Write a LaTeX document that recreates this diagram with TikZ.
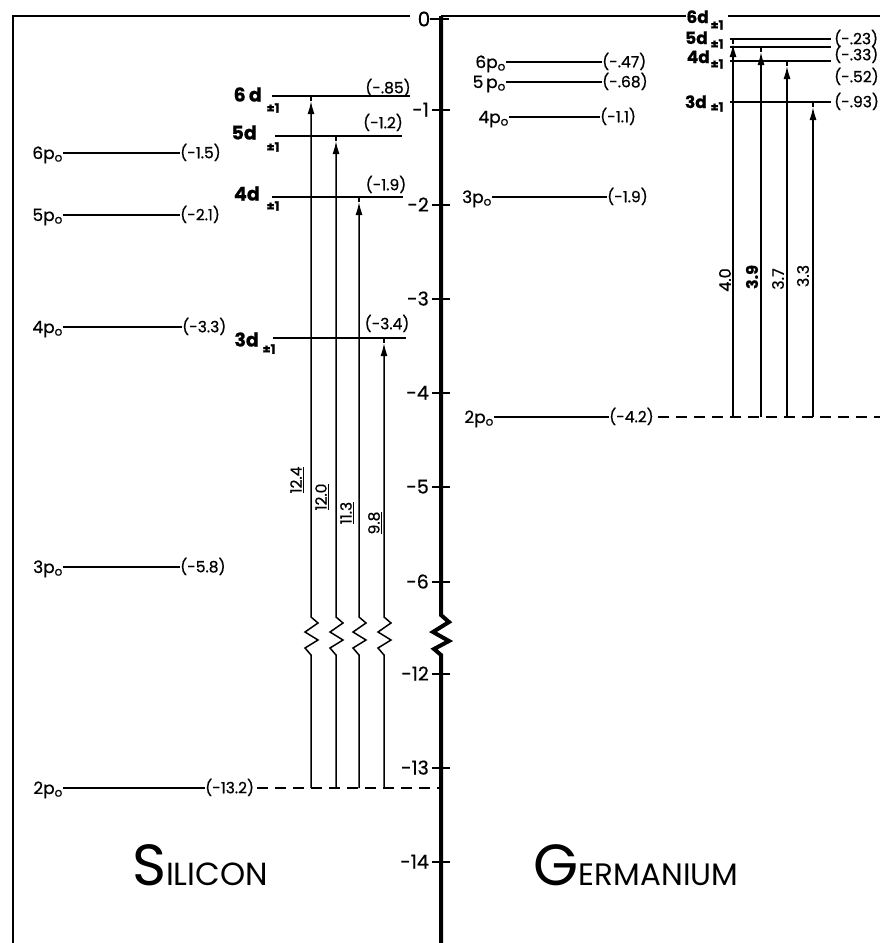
\documentclass[tikz,border=0pt]{standalone}
\usepackage{fontspec}
\setmainfont{Poppins}[FakeBold=0.6]
\newfontfamily\ttlfont{Poppins}
\usetikzlibrary{arrows.meta,calc}
\begin{document}
\begin{tikzpicture}[x=1pt,y=-1pt,
 lvl/.style={line width=1.8pt},
 trans/.style={line width=1.5pt},
 frameln/.style={line width=2.6pt},
 axisln/.style={line width=4pt},
 tickln/.style={line width=1.5pt},
 dashln/.style={line width=1.7pt,dash pattern=on 11pt off 7pt},
 val/.style={font=\fontsize{15.5}{15.5}\selectfont, inner sep=0pt, text height=10.5pt, text depth=0pt},
 plab/.style={font=\fontsize{17}{17}\selectfont, inner sep=0pt, text height=12pt, text depth=0pt},
 dlab/.style={font=\bfseries\fontsize{19}{19}\selectfont, inner sep=0pt, text height=13pt, text depth=0pt},
 gdlab/.style={font=\bfseries\fontsize{17}{17}\selectfont, inner sep=0pt, text height=12pt, text depth=0pt},
 pmlab/.style={font=\bfseries\fontsize{13}{13}\selectfont, inner sep=0pt},
 axlab/.style={font=\fontsize{19}{19}\selectfont, inner sep=0pt, text height=13pt, text depth=0pt, anchor=east},
 tlab/.style={font=\fontsize{15.5}{15.5}\selectfont, inner sep=0pt, rotate=90},
 arr/.style={-{Latex[length=13pt,width=7pt]}},
 ttl/.style={inner sep=0pt, anchor=base, font=\ttlfont}
]
\useasboundingbox (0,0) rectangle (880,943);
\fill[white] (0,0) rectangle (880,943);

% ---------- frame and axis ----------
\coordinate (fbl) at (13,943);
\coordinate (ftl) at (13,16);
\coordinate (ftr) at (410,16);
\draw[frameln] (fbl) -- (ftl) -- (ftr);
\node[font=\fontsize{20}{20}\selectfont, inner sep=0pt] (zero) at (424,19) {0};
\coordinate (axtop) at (441,16);
\coordinate (axbot) at (441,943);
\draw[tickln] (zero.east) -- ++(19,0);
\draw[axisln] (axtop) -- (441,615) -- (449,622) -- (433,632) -- (449,641) -- (434,649) -- (441,655) -- (axbot);

% ticks
\foreach \yy/\lab in {110/-1,205/-2,299/-3,393/-4,487/-5,582/-6,674/-12,768/-13,862/-14}{
  \draw[tickln] (432,\yy) -- (450,\yy);
  \node[axlab] at (429,\yy) {\lab};
}

% ---------- Silicon p levels ----------
\node[plab, anchor=east] (si6pl) at (63,153) {6p\textsubscript{o}};
\node[val, anchor=west] (si6pv) at (180,153) {(-1.5)};
\draw[lvl] (si6pl.east) -- (si6pv.west);

\node[plab, anchor=east] (si5pl) at (63,215) {5p\textsubscript{o}};
\node[val, anchor=west] (si5pv) at (180,215) {(-2.1)};
\draw[lvl] (si5pl.east) -- (si5pv.west);

\node[plab, anchor=east] (si4pl) at (63,327) {4p\textsubscript{o}};
\node[val, anchor=west] (si4pv) at (182,327) {(-3.3)};
\draw[lvl] (si4pl.east) -- (si4pv.west);

\node[plab, anchor=east] (si3pl) at (63,567) {3p\textsubscript{o}};
\node[val, anchor=west] (si3pv) at (180,567) {(-5.8)};
\draw[lvl] (si3pl.east) -- (si3pv.west);

\node[plab, anchor=east] (si2pl) at (63,788) {2p\textsubscript{o}};
\node[val, anchor=west] (si2pv) at (205,788) {(-13.2)};
\draw[lvl] (si2pl.east) -- (si2pv.west);
\coordinate (si2pax) at (441,788);
\draw[dashln] (si2pv.east) ++(3,0) -- (si2pax);

% ---------- Silicon d levels ----------
\node[dlab, anchor=east] (si6dl) at (262,95) {6\,d};
\node[pmlab] (si6dpm) at (273,108) {±1};
\coordinate (si6da) at (272,96); \coordinate (si6db) at (410,96);
\draw[lvl] (si6da) -- (si6db);
\node[val] (si6dv) at (388,88) {(-.85)};

\node[dlab, anchor=east] (si5dl) at (257,133) {5d};
\node[pmlab] (si5dpm) at (273,147) {±1};
\coordinate (si5da) at (275,136); \coordinate (si5db) at (402,136);
\draw[lvl] (si5da) -- (si5db);
\node[val] (si5dv) at (383,123) {(-1.2)};

\node[dlab, anchor=east] (si4dl) at (260,194) {4d};
\node[pmlab] (si4dpm) at (273,206) {±1};
\coordinate (si4da) at (272,197); \coordinate (si4db) at (403,197);
\draw[lvl] (si4da) -- (si4db);
\node[val] (si4dv) at (386,185) {(-1.9)};

\node[dlab, anchor=east] (si3dl) at (259,340) {3d};
\node[pmlab] (si3dpm) at (269,349) {±1};
\coordinate (si3da) at (273,338); \coordinate (si3db) at (406,338);
\draw[lvl] (si3da) -- (si3db);
\node[val] (si3dv) at (387,324) {(-3.4)};

% ---------- Silicon transitions ----------
\foreach \xx/\top/\nm in {311/96/a,336/136/b,359/197/c,384/338/d}{
  \coordinate (sib\nm) at (\xx,788);
  \coordinate (sit\nm) at (\xx,\top);
  \coordinate (sih\nm) at (\xx,\top+5);
  \draw[trans,arr] (sib\nm) -- ++(0,-133) -- ++(-6,-7) -- ++(13,-8) -- ++(-13,-8) -- ++(13,-9) -- ++(-7,-6) -- (sih\nm);
  \draw[trans] (sih\nm) -- (sit\nm);
}
\node[tlab] (sie1) at (297,480) {\underline{12.4}};
\node[tlab] (sie2) at (322,497) {\underline{12.0}};
\node[tlab] (sie3) at (347,513) {\underline{11.3}};
\node[tlab] (sie4) at (375,523) {\underline{9.8}};

% ---------- Germanium top line and d labels ----------
\node[gdlab, anchor=east] (ge6dl) at (709,17) {6d};
\node[pmlab] (ge6dpm) at (717,25) {±1};
\coordinate (getr) at (880,16);
\draw[frameln] (axtop) -- (ge6dl.west |- axtop);
\draw[frameln] (728,16) -- (getr);

\node[gdlab, anchor=east] (ge5dl) at (708,38) {5d};
\node[pmlab] (ge5dpm) at (717,44) {±1};
\node[gdlab, anchor=east] (ge4dl) at (710,57) {4d};
\node[pmlab] (ge4dpm) at (717,64) {±1};
\node[gdlab, anchor=east] (ge3dl) at (707,102) {3d};
\node[pmlab] (ge3dpm) at (717,107) {±1};

\foreach \yy/\vy/\vv/\nm in {39/39/{(-.23)}/a,47/55/{(-.33)}/b,61/77/{(-.52)}/c,102/102/{(-.93)}/d}{
  \coordinate (geda\nm) at (730,\yy);
  \coordinate (gedb\nm) at (831,\yy);
  \draw[lvl] (geda\nm) -- (gedb\nm);
  \node[val, anchor=west] (gedv\nm) at (834,\vy) {\vv};
}

% ---------- Germanium p levels ----------
\node[plab, anchor=east] (ge6pl) at (506,62) {6p\textsubscript{o}};
\node[val, anchor=west] (ge6pv) at (602,62) {(-.47)};
\draw[lvl] (ge6pl.east) -- (ge6pv.west);

\node[plab, anchor=east] (ge5pl) at (506,82) {5\,p\textsubscript{o}};
\node[val, anchor=west] (ge5pv) at (602,82) {(-.68)};
\draw[lvl] (ge5pl.east) -- (ge5pv.west);

\node[plab, anchor=east] (ge4pl) at (509,117) {4p\textsubscript{o}};
\node[val, anchor=west] (ge4pv) at (600,117) {(-1.1)};
\draw[lvl] (ge4pl.east) -- (ge4pv.west);

\node[plab, anchor=east] (ge3pl) at (492,197) {3p\textsubscript{o}};
\node[val, anchor=west] (ge3pv) at (607,197) {(-1.9)};
\draw[lvl] (ge3pl.east) -- (ge3pv.west);

\node[plab, anchor=east] (ge2pl) at (494,417) {2p\textsubscript{o}};
\node[val, anchor=west] (ge2pv) at (609,417) {(-4.2)};
\draw[lvl] (ge2pl.east) -- (ge2pv.west);
\coordinate (ge2pr) at (880,417);
\draw[dashln] (ge2pv.east) ++(4,0) -- (ge2pr);

% ---------- Germanium transitions ----------
\foreach \xx/\top/\nm in {733/39/a,761/47/b,787/61/c,813/102/d}{
  \coordinate (geb\nm) at (\xx,417);
  \coordinate (get\nm) at (\xx,\top);
  \coordinate (geh\nm) at (\xx,\top+5);
  \draw[trans,arr] (geb\nm) -- (geh\nm);
  \draw[trans] (geh\nm) -- (get\nm);
}
\node[tlab, font=\fontsize{16}{16}\selectfont] (gee1) at (725,280) {4.0};
\node[tlab, font=\bfseries\fontsize{16}{16}\selectfont] (gee2) at (752,277) {3.9};
\node[tlab, font=\fontsize{16}{16}\selectfont] (gee3) at (778,279) {3.7};
\node[tlab, font=\fontsize{16}{16}\selectfont] (gee4) at (803,276) {3.3};

% ---------- titles ----------
\node[ttl] (sititle) at (200,885) {{\fontsize{58}{58}\selectfont S}{\fontsize{32}{32}\selectfont ILICON}};
\node[ttl] (getitle) at (636,885) {{\fontsize{58}{58}\selectfont G}{\fontsize{31}{31}\selectfont ERMANIUM}};
\end{tikzpicture}
\end{document}
